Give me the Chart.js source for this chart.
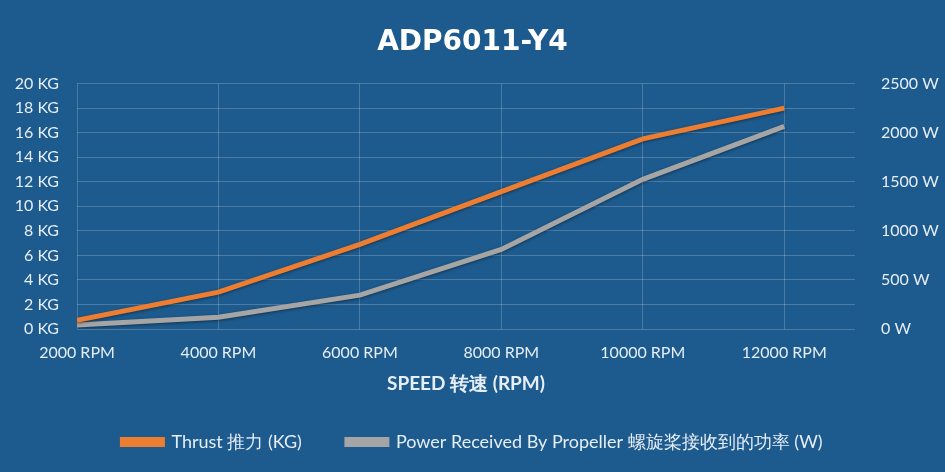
<!DOCTYPE html>
<html>
<head>
<meta charset="utf-8">
<script src="https://cdn.jsdelivr.net/npm/chart.js@4.4.1/dist/chart.umd.min.js"></script>
<style>
  html, body { margin: 0; padding: 0; background: #1d5a8d; }
  #wrap { position: relative; width: 945px; height: 472px; }
</style>
</head>
<body>
<div id="wrap"><canvas id="c"></canvas></div>
<script>
const speeds = [2000, 4000, 6000, 8000, 10000, 12000];
const thrustKg = [0.7, 3.0, 6.9, 11.2, 15.5, 18.0];
const powerW = [40, 120, 345, 810, 1525, 2065];
const kgTicks = [0, 20, 2];
const wattTicks = [0, 2500, 500];

const textColor = '#e6eef7';
const gridColor = 'rgba(255,255,255,0.2)';
const tickFont = { family: 'Lato', size: 16 };

function points(values) {
    return speeds.map((s, i) => ({ x: s, y: values[i] }));
}

// soft dark edge under the lines, like the original
const lineShadow = {
    id: 'lineShadow',
    beforeDatasetDraw(chart) {
        const c = chart.ctx;
        c.save();
        c.shadowColor = 'rgba(0,0,0,0.45)';
        c.shadowBlur = 3;
        c.shadowOffsetY = 1;
    },
    afterDatasetDraw(chart) {
        chart.ctx.restore();
    }
};

const ctx = document.getElementById('c');

new Chart(ctx, {
    type: 'line',
    data: {
        datasets: [{
            label: 'Thrust 推力 (KG)',
            data: points(thrustKg),
            borderColor: '#ed7d31',
            backgroundColor: '#ed7d31',
            borderWidth: 5,
            pointRadius: 0,
            yAxisID: 'kg'
        }, {
            label: 'Power Received By Propeller 螺旋桨接收到的功率 (W)',
            data: points(powerW),
            borderColor: '#a5a5a5',
            backgroundColor: '#a5a5a5',
            borderWidth: 5,
            pointRadius: 0,
            yAxisID: 'w'
        }]
    },
    plugins: [lineShadow],
    options: {
        responsive: true,
        maintainAspectRatio: false,
        animation: false,
        layout: { padding: { left: 0, right: 0, top: 0, bottom: 11 } },
        plugins: {
            title: {
                display: true,
                text: 'ADP6011-Y4',
                color: '#ffffff',
                font: { family: 'DejaVu Sans', size: 28, weight: 'bold' },
                padding: { top: 26, bottom: 24 }
            },
            legend: {
                position: 'bottom',
                labels: {
                    color: textColor,
                    font: { family: 'Lato', size: 18 },
                    boxWidth: 40,
                    boxHeight: 5,
                    padding: 45
                }
            },
            tooltip: { enabled: false }
        },
        scales: {
            x: {
                type: 'linear',
                min: 2000,
                max: 13000,
                afterBuildTicks: (scale) => {
                    scale.ticks = speeds.map(v => ({ value: v }));
                },
                ticks: {
                    autoSkip: false,
                    color: textColor,
                    font: tickFont,
                    padding: 14,
                    maxRotation: 0,
                    callback: (v) => v + ' RPM'
                },
                grid: { color: gridColor, drawTicks: false },
                border: { display: false },
                title: {
                    display: true,
                    text: 'SPEED 转速 (RPM)',
                    color: textColor,
                    font: { family: 'Lato', size: 19, weight: 'bold' },
                    padding: { top: -4, bottom: -7 }
                }
            },
            kg: {
                position: 'left',
                min: kgTicks[0],
                max: kgTicks[1],
                ticks: {
                    stepSize: kgTicks[2],
                    color: textColor,
                    font: tickFont,
                    padding: 18,
                    callback: (v) => v + ' KG'
                },
                afterFit: (scale) => { scale.width = 77; },
                grid: { color: gridColor, drawTicks: false },
                border: { display: false }
            },
            w: {
                position: 'right',
                min: wattTicks[0],
                max: wattTicks[1],
                ticks: {
                    stepSize: wattTicks[2],
                    color: textColor,
                    font: tickFont,
                    padding: 18,
                    callback: (v) => v + ' W'
                },
                afterFit: (scale) => { scale.width = 90; },
                grid: { display: false },
                border: { display: false }
            }
        }
    }
});
</script>
</body>
</html>
